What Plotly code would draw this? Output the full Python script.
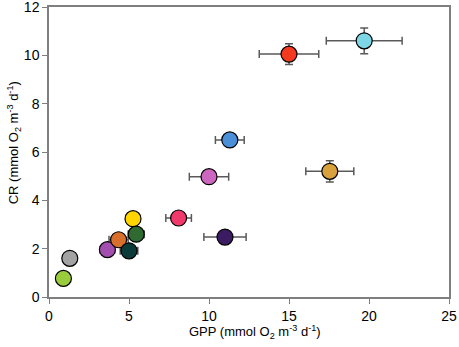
import plotly.graph_objects as go

gpp = [0.9, 1.3, 3.65, 4.35, 5.0, 5.25, 5.45, 8.1, 11.0, 10.0, 11.3, 15.0, 19.7, 17.55]
cr = [0.77, 1.6, 1.96, 2.37, 1.91, 3.24, 2.6, 3.27, 2.48, 4.98, 6.5, 10.05, 10.6, 5.2]
gpp_err = [0.1, 0.1, 0.45, 0.6, 0.55, 0.42, 0.5, 0.8, 1.32, 1.23, 0.9, 1.86, 2.37, 1.5]
cr_err = [0.05, 0.05, 0.1, 0.15, 0.1, 0.1, 0.1, 0.1, 0.1, 0.1, 0.15, 0.43, 0.53, 0.44]
colors = ["#9acd3c", "#a3a3a3", "#a24fb0", "#d86f2c", "#0b3b38", "#ffd400", "#2e6a32",
          "#f03a6c", "#3b1c62", "#cc66bf", "#4a8fd8", "#f43b1f", "#7dd6e6", "#d9a13c"]

x_ticks = [0, 5, 10, 15, 20, 25]
y_ticks = [0, 2, 4, 6, 8, 10, 12]

fig = go.Figure()
fig.add_trace(go.Scatter(
    x=gpp, y=cr, mode="markers",
    marker=dict(size=16, color=colors, line=dict(color="black", width=1.2)),
    error_x=dict(type="data", array=gpp_err, color="#5a5a5a", thickness=1.5, width=4),
    error_y=dict(type="data", array=cr_err, color="#5a5a5a", thickness=1.5, width=4),
    showlegend=False,
))

axis_common = dict(
    showgrid=False, zeroline=False, showline=True, linecolor="#7f7f7f", linewidth=1.5,
    mirror=True, ticks="outside", ticklen=5, tickcolor="#7f7f7f", tickwidth=1,
    automargin=False, ticklabeloverflow="allow",
    tickfont=dict(family="Liberation Sans, Arial", size=14, color="black"),
)

fig.update_layout(
    width=459, height=347,
    margin=dict(l=49, r=10, t=7, b=50),
    paper_bgcolor="white", plot_bgcolor="white",
    font=dict(family="Liberation Sans, Arial", size=13, color="black"),
    xaxis=dict(range=[0, 25], tickvals=x_ticks, **axis_common),
    yaxis=dict(range=[0, 12], tickvals=y_ticks, **axis_common),
    annotations=[
        dict(text="CR (mmol O<sub>2</sub> m<sup>-3</sup> d<sup>-1</sup>)",
             xref="paper", yref="paper", x=-0.0875, y=0.53,
             xanchor="center", yanchor="middle", textangle=-90, showarrow=False,
             font=dict(size=13, color="black")),
        dict(text="GPP (mmol O<sub>2</sub> m<sup>-3</sup> d<sup>-1</sup>)",
             xref="paper", yref="paper", x=0.515, y=-0.12,
             xanchor="center", yanchor="middle", showarrow=False,
             font=dict(size=13, color="black")),
    ],
)

fig.write_html("out.html", config={"displayModeBar": False},
               post_script="document.body.style.margin='0';document.body.style.overflow='hidden';")
